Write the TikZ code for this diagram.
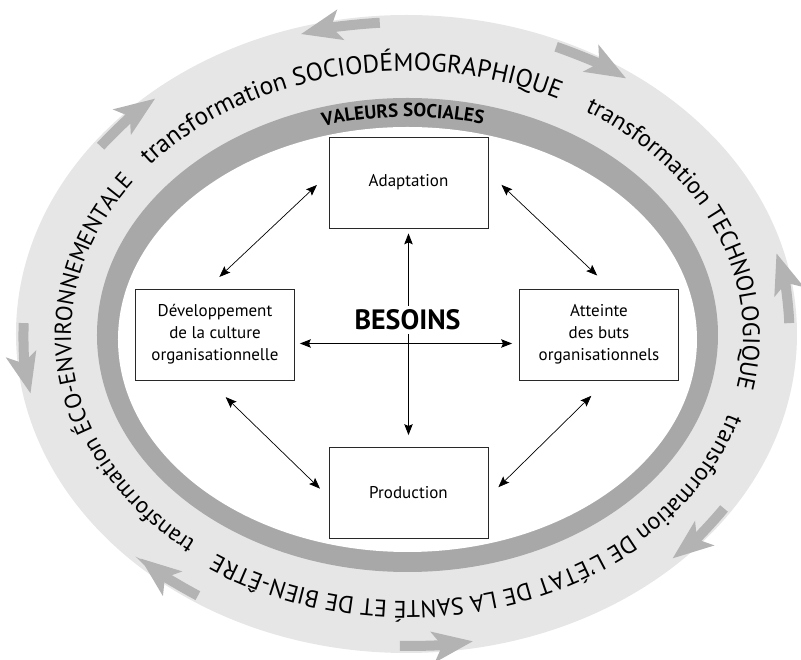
\documentclass[tikz,border=0pt]{standalone}
\usepackage{fontspec}
\setmainfont{PT Sans}
\usepackage{xcolor}
\definecolor{ringlight}{RGB}{230, 230, 230}
\definecolor{ringdark}{RGB}{168, 168, 168}
\definecolor{arrowgray}{RGB}{179, 179, 179}
\definecolor{boxline}{RGB}{40, 40, 40}
\usepackage{tikz}
\usetikzlibrary{arrows.meta, positioning, decorations.text}

\newcommand{\ringfont}[1]{\fontsize{#1}{#1}\selectfont}
\newcommand{\valfont}{\fontsize{19}{19}\selectfont\bfseries}

\begin{document}
\begin{tikzpicture}[x=1pt, y=1pt, >=Stealth,
    boite/.style={draw=boxline, line width=0.8pt, fill=white, minimum width=159pt, minimum height=91pt, align=center, font=\fontsize{17}{22}\selectfont},
    lien/.style={<->, line width=0.7pt, >={Stealth[length=11pt, width=8.5pt, inset=2pt]}},
    fleche/.style={arrowgray, line width=10pt, -{Stealth[length=40pt, width=30pt, inset=9pt]}},
    anneau/.style={decorate, decoration={text along path, text={#1}}},
    titre/.style={decorate, decoration={text along path, text align=center, text={#1}}}]
    \useasboundingbox (-407,-325) rectangle (394,335);

    \fill[ringlight] (-0.5,1) ellipse [x radius=390.5pt, y radius=319pt];
    \fill[ringdark] (0.5,0) ellipse [x radius=310.5pt, y radius=237pt];
    \fill[white] (0.5,-4.5) ellipse [x radius=289.5pt, y radius=212.5pt];

    \foreach \a/\b in {94/106, 67/55, 2/15, -34/-46, -91/-80, 237/226, 178/191, 143/131}
        \draw[fleche] (-0.5,1) ++(\a:383pt and 312pt) arc[start angle=\a, end angle=\b, x radius=383pt, y radius=312pt];

    \path[anneau={|\ringfont{25.3}|transformation SOCIODÉMOGRAPHIQUE}] (0,-1) ++(140:336pt and 265pt) arc[start angle=140, end angle=20, x radius=336pt, y radius=265pt];
    \path[anneau={|\ringfont{24}|transformation TECHNOLOGIQUE}] (0,-1) ++(58:336pt and 265pt) arc[start angle=58, end angle=-50, x radius=336pt, y radius=265pt];
    \path[anneau={|\ringfont{24}|transformation DE L’ÉTAT DE LA SANTÉ ET DE BIEN-ÊTRE}] (0,-1) ++(-17:336pt and 265pt) arc[start angle=-17, end angle=-170, x radius=336pt, y radius=265pt];
    \path[anneau={|\ringfont{23.2}|transformation ÉCO-ENVIRONNEMENTALE}] (0,-1) ++(231:336pt and 265pt) arc[start angle=231, end angle=100, x radius=336pt, y radius=265pt];
    \path[titre={|\valfont|VALEURS SOCIALES}] (0.5,-2) ++(130:296pt and 220pt) arc[start angle=130, end angle=52, x radius=296pt, y radius=220pt];

    \node[boite] (adapt) at (1.5,152.5) {Adaptation};
    \node[boite] (dev) at (-192,0.5) {Développement\\de la culture\\organisationnelle};
    \node[boite] (att) at (192,0.5) {Atteinte\\des buts\\organisationnels};
    \node[boite] (prod) at (1.5,-158) {Production};

    \draw[lien, line width=1pt, shorten <=5pt, shorten >=12pt] (adapt) -- (prod);
    \draw[lien, line width=1pt, shorten <=5pt, shorten >=7pt] ([yshift=-9pt]dev.east) -- ([yshift=-9pt]att.west);
    \draw[lien, shorten <=17pt, shorten >=16pt] ([xshift=-8pt]dev.north) -- ([yshift=8.5pt]adapt.west);
    \draw[lien, shorten <=18pt, shorten >=19pt] ([yshift=10pt]adapt.east) -- ([xshift=12pt]att.north);
    \draw[lien, shorten <=24pt, shorten >=12pt] ([xshift=-6.5pt]dev.south) -- ([yshift=-4pt]prod.west);
    \draw[lien, shorten <=14pt, shorten >=22pt] ([yshift=-4pt]prod.east) -- ([xshift=8pt]att.south);

    \node[fill=white, inner xsep=2pt, inner ysep=4pt, font=\fontsize{28}{28}\selectfont\bfseries] (besoins) at (0.5,15) {BESOINS};
\end{tikzpicture}
\end{document}
